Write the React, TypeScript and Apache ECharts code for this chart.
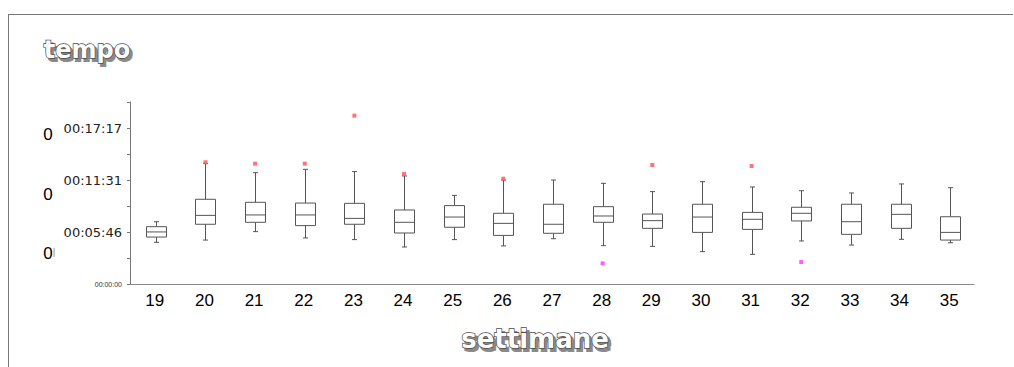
import React, { useEffect, useRef } from "react";
import * as echarts from "echarts";

const categories = ["19", "20", "21", "22", "23", "24", "25", "26", "27", "28", "29", "30", "31", "32", "33", "34", "35"];
// box statistics in seconds
const minVals = [277, 292, 348, 306, 295, 246, 295, 253, 301, 255, 250, 215, 197, 286, 259, 297, 274];
const q1Vals = [312, 397, 410, 388, 397, 339, 377, 323, 337, 410, 370, 343, 363, 419, 330, 370, 292];
const medianVals = [346, 456, 459, 459, 436, 410, 445, 403, 397, 452, 421, 445, 430, 470, 414, 463, 343];
const q3Vals = [381, 563, 543, 538, 536, 492, 521, 470, 530, 514, 465, 530, 476, 510, 530, 530, 447];
const maxVals = [414, 802, 740, 762, 747, 718, 589, 691, 691, 669, 614, 680, 645, 620, 605, 665, 640];
// outliers: [category, seconds]
const upperOutliers: [string, number][] = [["20", 809], ["21", 800], ["22", 800], ["23", 1119], ["24", 731], ["26", 700], ["29", 791], ["31", 784]];
const lowerOutliers: [string, number][] = [["28", 137], ["32", 146]];
// y axis: 0.002 day steps
const yStep = 172.8;
const yMax = 1209.6;
const leftStrayLabels = ["0", "0", "0"];

function fmt(v: number): string {
  const s = Math.round(v);
  const h = Math.floor(s / 3600);
  const m = Math.floor((s % 3600) / 60);
  const sec = s % 60;
  const p = (n: number) => String(n).padStart(2, "0");
  return `${p(h)}:${p(m)}:${p(sec)}`;
}

export default function App() {
  const ref = useRef<HTMLDivElement>(null);
  useEffect(() => {
    document.body.style.margin = "0";
    const chart = echarts.init(ref.current!, undefined, { renderer: "svg" });
    const boxData = categories.map((_, i) => [i, minVals[i], q1Vals[i], medianVals[i], q3Vals[i], maxVals[i]]);
    const titleText = (text: string, x: number, y: number, size: number) => [
      {
        type: "text",
        x: x + 2.5,
        y: y + 2.5,
        silent: true,
        style: {
          text,
          font: `bold ${size}px "DejaVu Sans"`,
          fill: "#8a8a8a",
          stroke: "#8a8a8a",
          lineWidth: 2,
          textAlign: "center",
          textVerticalAlign: "middle",
          align: "center",
          verticalAlign: "middle",
        },
      },
      {
        type: "text",
        x,
        y,
        style: {
          text,
          font: `bold ${size}px "DejaVu Sans"`,
          fill: "#ffffff",
          stroke: "#4a4a4a",
          lineWidth: 1.4,
          textAlign: "center",
          textVerticalAlign: "middle",
          align: "center",
          verticalAlign: "middle",
        },
      },
    ];
    const strayY = [134, 194, 253];
    chart.setOption({
      animation: false,
      grid: { left: 130, right: 40, top: 102, bottom: 83 },
      xAxis: {
        type: "category",
        data: categories,
        boundaryGap: true,
        axisLine: { lineStyle: { color: "#888", width: 1 } },
        axisTick: { length: 3, lineStyle: { color: "#888" } },
        axisLabel: { color: "#000", fontSize: 17, fontFamily: "Liberation Sans", margin: 8 },
        splitLine: { show: false },
      },
      yAxis: {
        type: "value",
        min: 0,
        max: yMax,
        interval: yStep,
        axisLine: { show: true, lineStyle: { color: "#777", width: 1 } },
        axisTick: { show: true, length: 3, lineStyle: { color: "#777" } },
        splitLine: { show: false },
        axisLabel: {
          margin: 8,
          formatter: (v: number) => {
            const k = Math.round(v / yStep);
            if (k % 2 !== 0) return "";
            if (k === 0) return `{s|${fmt(v)}}`;
            return `{n|${fmt(v)}}`;
          },
          rich: {
            s: { fontSize: 7, fontFamily: "Liberation Sans", color: "#333" },
            n: { fontSize: 13, fontFamily: "DejaVu Sans", color: "#222" },
          },
        },
      },
      graphic: [
        { type: "line", shape: { x1: 8, y1: 14.5, x2: 1013, y2: 14.5 }, style: { stroke: "#777", lineWidth: 1 } },
        { type: "line", shape: { x1: 8.5, y1: 14, x2: 8.5, y2: 367 }, style: { stroke: "#777", lineWidth: 1 } },
        ...titleText("tempo", 87, 50, 24),
        ...titleText("settimane", 535, 339, 26),
        ...leftStrayLabels.map((t, i) => ({
          type: "text",
          x: 48,
          y: strayY[i],
          style: {
            text: t,
            font: '17px "Liberation Sans"',
            fill: "#000",
            textAlign: "center",
            textVerticalAlign: "middle",
            align: "center",
            verticalAlign: "middle",
          },
        })),
        { type: "rect", shape: { x: 53.5, y: 248, width: 1.2, height: 9 }, style: { fill: "#aaa" } },
      ],
      series: [
        {
          type: "custom",
          data: boxData,
          encode: { x: 0, y: [1, 2, 3, 4, 5] },
          renderItem: (params: any, api: any) => {
            const i = api.value(0);
            const pMin = api.coord([i, api.value(1)]);
            const pQ1 = api.coord([i, api.value(2)]);
            const pMed = api.coord([i, api.value(3)]);
            const pQ3 = api.coord([i, api.value(4)]);
            const pMax = api.coord([i, api.value(5)]);
            const x = Math.round(pMin[0] + 1) + 0.5;
            const hw = 10;
            const cap = 2.5;
            const st = { stroke: "#555", lineWidth: 1, fill: null };
            return {
              type: "group",
              children: [
                { type: "line", shape: { x1: x, y1: pMax[1], x2: x, y2: pQ3[1] }, style: st },
                { type: "line", shape: { x1: x, y1: pQ1[1], x2: x, y2: pMin[1] }, style: st },
                { type: "line", shape: { x1: x - cap, y1: pMax[1], x2: x + cap, y2: pMax[1] }, style: st },
                { type: "line", shape: { x1: x - cap, y1: pMin[1], x2: x + cap, y2: pMin[1] }, style: st },
                {
                  type: "rect",
                  shape: { x: x - hw, y: pQ3[1], width: hw * 2, height: pQ1[1] - pQ3[1] },
                  style: { stroke: "#555", lineWidth: 1, fill: "#fff" },
                },
                { type: "line", shape: { x1: x - hw, y1: pMed[1], x2: x + hw, y2: pMed[1] }, style: st },
              ],
            };
          },
        },
        {
          type: "scatter",
          data: upperOutliers,
          symbol: "rect",
          symbolSize: 4,
          itemStyle: { color: "#ff5c5c", opacity: 0.85 },
          symbolOffset: [1, 0],
        },
        {
          type: "scatter",
          data: lowerOutliers,
          symbol: "rect",
          symbolSize: 4,
          itemStyle: { color: "#ff40ff", opacity: 0.85 },
          symbolOffset: [1, 0],
        },
      ],
    });
    return () => chart.dispose();
  }, []);
  return <div ref={ref} style={{ width: 1014, height: 367 }} />;
}
